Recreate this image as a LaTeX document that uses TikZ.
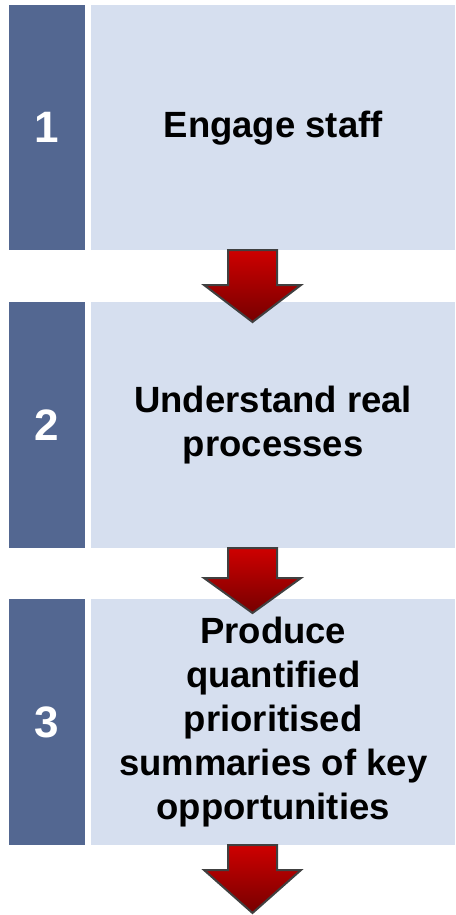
\documentclass[tikz,border=0pt]{standalone}
\usepackage{fontspec}
\setmainfont{Liberation Sans}
\begin{document}
\definecolor{stepblue}{RGB}{83,103,145}
\definecolor{panelblue}{RGB}{214,223,239}
\definecolor{arrowtop}{RGB}{206,0,0}
\definecolor{arrowbot}{RGB}{118,0,0}
\definecolor{arrowedge}{RGB}{64,64,64}
\begin{tikzpicture}[x=1pt,y=-1pt,
  numbox/.style={fill=stepblue,text=white,inner sep=0pt,minimum width=76pt,
    font=\fontsize{44}{44}\selectfont\bfseries},
  textbox/.style={fill=panelblue,text=black,inner sep=0pt,minimum width=364pt,
    align=center,font=\fontsize{36.5}{44}\selectfont\bfseries},
  downarrow/.style={top color=arrowtop,bottom color=arrowbot,draw=arrowedge,
    line width=2pt,line join=miter}]
\useasboundingbox (0,0) rectangle (455,915);

% step 1
\node[numbox,minimum height=245pt,anchor=north west] (n1) at (9,5) {1};
\node[textbox,minimum height=245pt,anchor=north west] (t1) at (91,5) {Engage staff};
% step 2
\node[numbox,minimum height=246pt,anchor=north west] (n2) at (9,302) {2};
\node[textbox,minimum height=246pt,anchor=north west] (t2) at (91,302) {Understand real\\processes};
% step 3
\node[numbox,minimum height=246pt,anchor=north west] (n3) at (9,599) {3};
\node[textbox,minimum height=246pt,anchor=north west] (t3) at (91,599)
  {Produce\\quantified\\prioritised\\summaries of key\\opportunities};

% arrows between the steps
\shadedraw[downarrow] (228,250) -- (277,250) -- (277,285) -- (301,285) -- (252.5,322)
  -- (204,285) -- (228,285) -- cycle;
\shadedraw[downarrow] (228,548) -- (277,548) -- (277,578) -- (301,578) -- (252.5,613)
  -- (204,578) -- (228,578) -- cycle;
\shadedraw[downarrow] (228,845) -- (277,845) -- (277,870) -- (301,870) -- (252.5,913)
  -- (204,870) -- (228,870) -- cycle;
\end{tikzpicture}
\end{document}
